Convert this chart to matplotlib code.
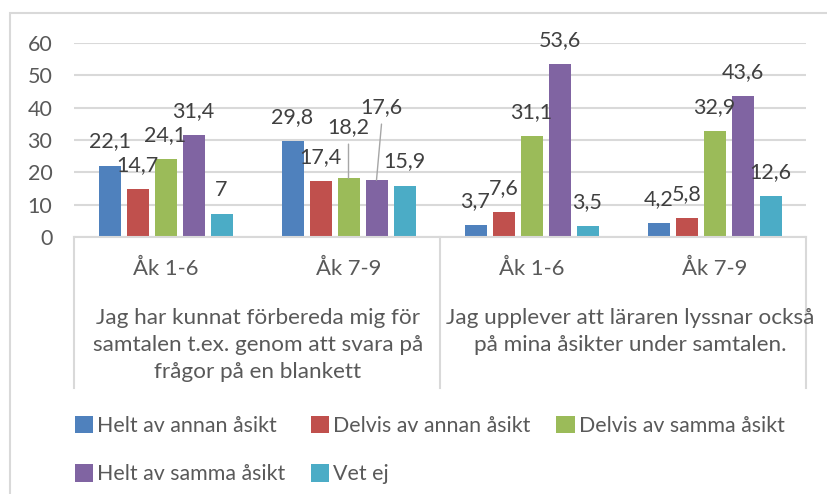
import matplotlib
matplotlib.use("Agg")
import matplotlib.pyplot as plt
from matplotlib.patches import Rectangle
from matplotlib.lines import Line2D
import numpy as np

plt.rcParams['font.family'] = ['Lato', 'DejaVu Sans']

series = ["Helt av annan åsikt", "Delvis av annan åsikt", "Delvis av samma åsikt",
          "Helt av samma åsikt", "Vet ej"]
colors = ["#4F81BD", "#C0504D", "#9BBB59", "#8064A2", "#4BACC6"]
sub_labels = ["Åk 1-6", "Åk 7-9", "Åk 1-6", "Åk 7-9"]
group_labels = ["Jag har kunnat förbereda mig för\nsamtalen t.ex. genom att svara på\nfrågor på en blankett",
                "Jag upplever att läraren lyssnar också\npå mina åsikter under samtalen."]
helt_annan = [22.1, 29.8, 3.7, 4.2]
delvis_annan = [14.7, 17.4, 7.6, 5.8]
delvis_samma = [24.1, 18.2, 31.1, 32.9]
helt_samma = [31.4, 17.6, 53.6, 43.6]
vet_ej = [7, 15.9, 3.5, 12.6]
values = [helt_annan, delvis_annan, delvis_samma, helt_samma, vet_ej]
y_ticks = [0, 10, 20, 30, 40, 50, 60]

W, H = 827, 494
fig = plt.figure(figsize=(W / 100, H / 100), dpi=100)

def fx(px):
    return px / W

def fy(py):
    return 1 - py / H

# chart border
fig.patches.append(Rectangle((fx(10), fy(600)), fx(900), fy(13) - fy(600),
                             transform=fig.transFigure, fill=False,
                             edgecolor="#D9D9D9", linewidth=1.5))

left, right, top, bottom = 74, 806, 43, 237
ax = fig.add_axes([fx(left), fy(bottom), fx(right - left), fy(top) - fy(bottom)])

n_groups = len(sub_labels)
x = np.arange(n_groups)
step = 28 / 183
width = 22 / 183
for i, (name, vals, col) in enumerate(zip(series, values, colors)):
    xs = x + (i - 2) * step
    ax.bar(xs, vals, width=width, color=col, label=name, zorder=3)
    for j, (xx, v) in enumerate(zip(xs, vals)):
        lab = f"{v}".replace(".", ",")
        dx, dy = 0, 24
        leader = False
        if i == 2 and j == 1:
            dy = 51
            leader = True
        if i == 3 and j == 1:
            dx, dy = 5, 73
            leader = True
        ax.annotate(lab, (xx, v), xytext=(dx, dy), textcoords="offset pixels",
                    ha="center", va="center", fontsize=15.5, color="#404040",
                    annotation_clip=False, zorder=5)
        if leader:
            ax.annotate("", (xx, v), xytext=(dx, dy - 17), textcoords="offset pixels",
                        arrowprops=dict(arrowstyle="-", color="#A6A6A6", lw=1,
                                        shrinkA=0, shrinkB=0),
                        annotation_clip=False)

ax.set_xlim(-0.5, n_groups - 0.5)
ax.set_ylim(0, 60)
ax.set_yticks(y_ticks)
ax.set_yticklabels([str(t) for t in y_ticks], fontsize=15.5, color="#595959")
ax.tick_params(axis="y", length=0, pad=15.5)
ax.set_xticks([])
ax.grid(axis="y", color="#D9D9D9", linewidth=1.5, zorder=0)
for s in ["top", "right", "left"]:
    ax.spines[s].set_visible(False)
ax.spines["bottom"].set_color("#D9D9D9")
ax.spines["bottom"].set_linewidth(1.5)
ax.spines["bottom"].set_zorder(4)

# category axis (two level)
for px in [left, (left + right) / 2, right]:
    fig.add_artist(Line2D([fx(px), fx(px)], [fy(bottom), fy(388)], color="#D9D9D9",
                          linewidth=1.5, transform=fig.transFigure))
for j, lab in enumerate(sub_labels):
    xc = left + (j + 0.5) * (right - left) / n_groups
    fig.text(fx(xc), fy(269), lab, ha="center", va="center", fontsize=15.8, color="#595959")
group_shift = [1, 7]
for g, lab in enumerate(group_labels):
    xc = left + (g + 0.5) * (right - left) / 2 + group_shift[g]
    fig.text(fx(xc), fy(308), lab, ha="center", va="top", fontsize=16.2, color="#595959",
             linespacing=1.45)

# legend
handles, labels = ax.get_legend_handles_labels()
order = [0, 3, 1, 4, 2]
leg = fig.legend([handles[k] for k in order], [labels[k] for k in order],
                 loc="upper left", bbox_to_anchor=(fx(66), fy(407)), ncol=3,
                 frameon=False, fontsize=15.4, labelcolor="#595959",
                 handlelength=0.85, handleheight=0.85, handletextpad=0.2,
                 columnspacing=1.2, labelspacing=1.35, borderaxespad=0)

fig.savefig("out.png", dpi=100)
